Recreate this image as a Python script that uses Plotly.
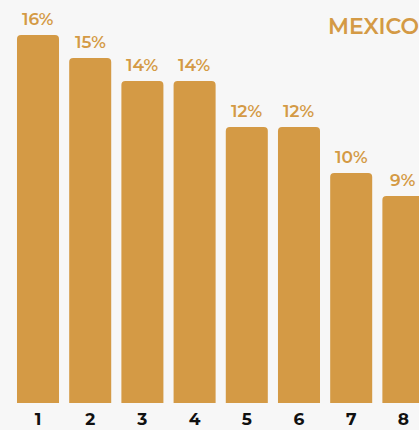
import plotly.graph_objects as go

# Ranking positions and their shares (%)
ranks = ["1", "2", "3", "4", "5", "6", "7", "8"]
shares = [16, 15, 14, 14, 12, 12, 10, 9]
country = "MEXICO"

GOLD = "#D49A45"
BG = "#F7F7F7"
FONT = "Montserrat, 'Open Sans', Lato, sans-serif"

fig = go.Figure(
    go.Bar(
        x=ranks,
        y=shares,
        marker=dict(color=GOLD, line=dict(width=0), cornerradius=4),
        hoverinfo="skip",
    )
)

# Value labels above each bar (category axis positions are indices)
for i, v in enumerate(shares):
    fig.add_annotation(
        x=i, y=v, text=f"{v}%", showarrow=False,
        yanchor="bottom", yshift=4,
        font=dict(family=FONT, size=17, color=GOLD, weight=600),
    )

fig.add_annotation(
    xref="paper", yref="paper", x=326 / 419, y=1 - 27 / 403,
    xanchor="left", yanchor="middle", showarrow=False,
    text=country,
    font=dict(family=FONT, size=22, color=GOLD, weight=600),
)

fig.update_layout(
    width=419, height=430,
    margin=dict(l=0, r=0, t=0, b=27),
    paper_bgcolor=BG, plot_bgcolor=BG,
    bargap=0.195,
    showlegend=False,
    xaxis=dict(
        type="category", range=[-0.728, 7.299],
        showgrid=False, zeroline=False, showline=False, ticks="",
        ticklabelstandoff=4,
        tickfont=dict(family=FONT, size=17, color="#111111", weight="bold"),
    ),
    yaxis=dict(
        range=[0, 17.52], visible=False, showgrid=False, zeroline=False,
    ),
)

fig.write_html("out.html")
